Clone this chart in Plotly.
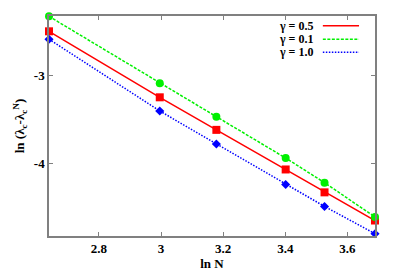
import plotly.graph_objects as go
import numpy as np

N_values = [14, 20, 24, 30, 34, 40]
ln_N = list(np.log(N_values))

gamma_labels = ["γ = 0.5", "γ = 0.1", "γ = 1.0"]
y_g05 = [-2.50, -3.25, -3.62, -4.07, -4.33, -4.65]
y_g01 = [-2.33, -3.09, -3.47, -3.94, -4.22, -4.61]
y_g10 = [-2.59, -3.405, -3.78, -4.24, -4.49, -4.80]

x_tickvals = [2.8, 3.0, 3.2, 3.4, 3.6]
x_ticklabels = ["2.8", "3", "3.2", "3.4", "3.6"]
y_tickvals = [-3, -4]
y_ticklabels = ["-3", "-4"]

series = [
    (gamma_labels[0], y_g05, "#ff0000", "solid", "square", 8),
    (gamma_labels[1], y_g01, "#00f000", "3px,1.5px", "circle", 8),
    (gamma_labels[2], y_g10, "#0000ff", "1.5px,1.5px", "diamond", 7),
]

FONT = "Liberation Serif"
W, H = 391, 271  # page body has an 8px margin
fig = go.Figure()
for name, ys, col, dash, sym, ms in series:
    fig.add_trace(go.Scatter(
        x=ln_N, y=ys, mode="lines+markers", name=name,
        line=dict(color=col, dash=dash, width=1.5),
        marker=dict(color=col, symbol=sym, size=ms),
        cliponaxis=False, showlegend=False,
    ))

# legend drawn as text + line samples (right-aligned text like the original)
leg_y = [0.956, 0.894, 0.835]
for (name, ys, col, dash, sym, ms), yy in zip(series, leg_y):
    fig.add_annotation(x=0.816, y=yy, xref="paper", yref="paper", text="<b>" + name + "</b>",
                       showarrow=False, xanchor="right", yanchor="middle",
                       font=dict(family=FONT, size=12, color="black"))
    fig.add_shape(type="line", xref="paper", yref="paper", x0=0.840, x1=0.951, y0=yy, y1=yy,
                  line=dict(color=col, dash=dash, width=1.5))

axis_common = dict(
    showline=True, linecolor="#808080", linewidth=1.5, mirror="ticks",
    ticks="inside", ticklen=4, tickcolor="#808080", tickwidth=1,
    showgrid=False, zeroline=False, automargin=False,
    tickfont=dict(family=FONT, size=13, color="black"),
)

fig.update_layout(
    width=W, height=H,
    margin=dict(l=41, r=24, t=8, b=43),
    paper_bgcolor="white", plot_bgcolor="white",
    xaxis=dict(range=[np.log(14), np.log(40)], tickmode="array", tickvals=x_tickvals,
               ticktext=["<b>" + t + "</b>" for t in x_ticklabels],
               title=dict(text="<b>ln N</b>", font=dict(family=FONT, size=13, color="black"), standoff=4),
               **axis_common),
    yaxis=dict(range=[-4.826, -2.326], tickmode="array", tickvals=y_tickvals,
               ticktext=["<b>" + t + "</b>" for t in y_ticklabels],
               title=dict(text="<b>ln (λ<sub>c</sub>-λ<sub>c</sub><sup>N</sup>)</b>",
                          font=dict(family=FONT, size=13, color="black"), standoff=6),
               **axis_common),
)

fig.write_html("out.html")
